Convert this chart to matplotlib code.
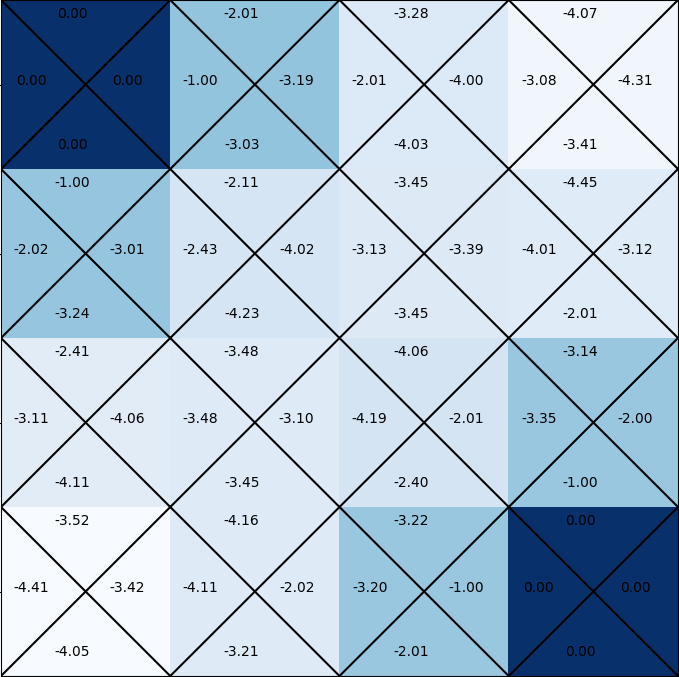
import numpy as np
import matplotlib
matplotlib.use("Agg")
import matplotlib.pyplot as plt

# Q-values per state (row, col) for each action
q_up = [
    [0.00, -2.01, -3.28, -4.07],
    [-1.00, -2.11, -3.45, -4.45],
    [-2.41, -3.48, -4.06, -3.14],
    [-3.52, -4.16, -3.22, 0.00],
]
q_left = [
    [0.00, -1.00, -2.01, -3.08],
    [-2.02, -2.43, -3.13, -4.01],
    [-3.11, -3.48, -4.19, -3.35],
    [-4.41, -4.11, -3.20, 0.00],
]
q_right = [
    [0.00, -3.19, -4.00, -4.31],
    [-3.01, -4.02, -3.39, -3.12],
    [-4.06, -3.10, -2.01, -2.00],
    [-3.42, -2.02, -1.00, 0.00],
]
q_down = [
    [0.00, -3.03, -4.03, -3.41],
    [-3.24, -4.23, -3.45, -2.01],
    [-4.11, -3.45, -2.40, -1.00],
    [-4.05, -3.21, -2.01, 0.00],
]

Q = np.stack([np.array(q_up), np.array(q_left), np.array(q_right), np.array(q_down)])
V = Q.mean(axis=0)
n_rows, n_cols = V.shape

fig = plt.figure(figsize=(6.79, 6.77), dpi=100)
ax = fig.add_axes([1 / 679, 1 / 677, 677 / 679, 676 / 677])
ax.imshow(V, cmap="Blues", aspect="auto", interpolation="nearest")

for r in range(n_rows):
    for c in range(n_cols):
        ax.plot([c - 0.5, c + 0.5], [r - 0.5, r + 0.5], color="black", lw=1.5)
        ax.plot([c - 0.5, c + 0.5], [r + 0.5, r - 0.5], color="black", lw=1.5)
        ax.text(c - 0.078, r - 0.395, f"{q_up[r][c]:.2f}", ha="center", va="baseline", fontsize=10)
        ax.text(c - 0.322, r + 0.005, f"{q_left[r][c]:.2f}", ha="center", va="baseline", fontsize=10)
        ax.text(c + 0.247, r + 0.005, f"{q_right[r][c]:.2f}", ha="center", va="baseline", fontsize=10)
        ax.text(c - 0.078, r + 0.383, f"{q_down[r][c]:.2f}", ha="center", va="baseline", fontsize=10)

ax.set_xlim(-0.5, n_cols - 0.5)
ax.set_ylim(n_rows - 0.5, -0.5)
ax.set_xticks(range(n_cols))
ax.set_yticks(range(n_rows))
ax.set_xticklabels([])
ax.set_yticklabels([])

fig.savefig("out.png", dpi=100)
